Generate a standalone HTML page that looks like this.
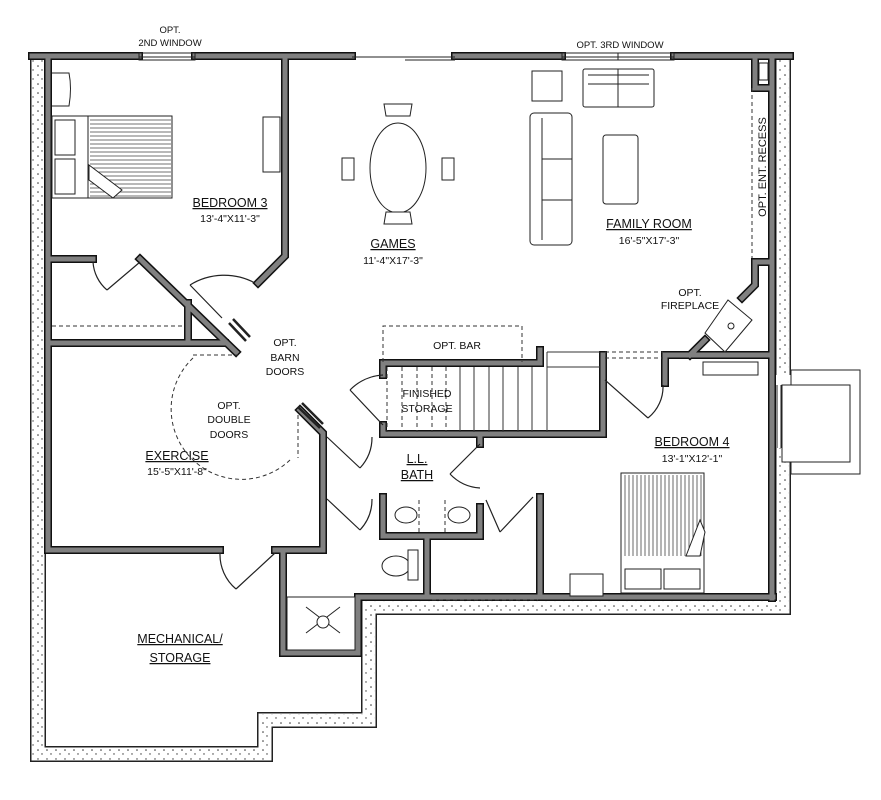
<!DOCTYPE html>
<html><head><meta charset="utf-8"><style>
html,body{margin:0;padding:0;background:#fff}
svg{display:block}
text{font-family:"Liberation Sans",Arial,sans-serif;fill:#111;text-anchor:middle}
.t{font-size:12.5px}.s{font-size:10.5px}.x{font-size:9.5px}
</style></head><body>
<svg width="881" height="800" viewBox="0 0 881 800" xmlns="http://www.w3.org/2000/svg">
<defs>
<pattern id="dots" width="9" height="9" patternUnits="userSpaceOnUse">
<circle cx="2" cy="3" r="0.8" fill="#333"/><circle cx="6" cy="7" r="0.7" fill="#333"/>
</pattern>
</defs>
<g fill="none" stroke-linejoin="miter">
<path d="M38,52 V754 H265 V720 H369 V607 H783 V448 M783,375 V52" stroke="#222" stroke-width="16"/>
<path d="M38,52 V754 H265 V720 H369 V607 H783 V448 M783,375 V52" stroke="#fff" stroke-width="13"/>
<path d="M38,52 V754 H265 V720 H369 V607 H783 V448 M783,375 V52" stroke="url(#dots)" stroke-width="11"/>
</g>
<rect x="791" y="370" width="69" height="104" fill="#fff" stroke="#222" stroke-width="1"/>
<rect x="782" y="385" width="68" height="77" fill="#fff" stroke="#222" stroke-width="1"/>
<line x1="777" y1="385" x2="777" y2="448" stroke="#222"/><line x1="781" y1="385" x2="781" y2="448" stroke="#222"/>
<g fill="none" stroke-linejoin="miter" stroke-linecap="square">
<path stroke="#111" stroke-width="8" d="M32,56 H139 M195,56 H352 M455,56 H562 M674,56 H790
M48,56 V550 M285,56 V256 L258,283 M48,259 H93 M140,259 L236,352 M48,343 H225 M188,303 V343
M48,550 H220 M275,550 H323 V433 L300,410 M283,550 V653 H358 V597 H773
M383,375 V363 H540 M383,425 V434 H603 V355 M540,363 V350
M665,383 V355 H772 M690,355 L705,340 M742,298 L755,285 V262 H770
M772,61 V598 M755,61 V88 H770
M383,497 V536 H480 V507 M427,536 V597 M540,497 V597 M480,437 V444"/>
<path stroke="#808080" stroke-width="5" d="M32,56 H139 M195,56 H352 M455,56 H562 M674,56 H790
M48,56 V550 M285,56 V256 L258,283 M48,259 H93 M140,259 L236,352 M48,343 H225 M188,303 V343
M48,550 H220 M275,550 H323 V433 L300,410 M283,550 V653 H358 V597 H773
M383,375 V363 H540 M383,425 V434 H603 V355 M540,363 V350
M665,383 V355 H772 M690,355 L705,340 M742,298 L755,285 V262 H770
M772,61 V598 M755,61 V88 H770
M383,497 V536 H480 V507 M427,536 V597 M540,497 V597 M480,437 V444"/>
</g>
<g stroke="#222" fill="none" stroke-width="1">
<rect x="139" y="53" width="56" height="7"/><line x1="139" y1="57" x2="195" y2="57"/>
<rect x="562" y="53" width="112" height="7"/><line x1="562" y1="57" x2="674" y2="57"/><line x1="618" y1="53" x2="618" y2="60"/>
<line x1="352" y1="57" x2="455" y2="57"/><line x1="405" y1="60" x2="455" y2="60"/>
<rect x="759" y="63" width="9" height="17"/>
</g>
<g stroke="#333" fill="none" stroke-width="1" stroke-dasharray="4 3">
<path d="M752,88 V258"/>
<path d="M383,362 V326 H522 V362"/>
<path d="M52,326 H185"/>
<path d="M605,352 H663 M605,358 H663"/>
<path d="M193,355 H238 M298,415 V458"/>
<path d="M193,358 A60,60 0 0,0 290,460" />
<path d="M432,600 H538 M290,601 H355"/>
<path d="M387,367 V432 M402,367 V432 M417,367 V432 M432,367 V432 M446,367 V432"/>
<path d="M419,500 V533 M445,500 V533"/>
</g>
<g stroke="#333" stroke-width="1">
<path d="M460,367 V432 M474,367 V432 M489,367 V432 M503,367 V432 M518,367 V432 M532,367 V432 M547,352 V432 M547,352 H600 M547,367 H600"/>
</g>
<g stroke="#222" fill="none" stroke-width="1.2">
<path d="M140,262 L107,290 M93,262 A40,40 0 0,0 107,290"/>
<path d="M190,285 L222,318 M190,285 A65,65 0 0,1 255,283"/>
<path d="M327,437 L360,468 M372,437 A45,45 0 0,1 360,468"/>
<path d="M327,499 L360,530 M372,499 A45,45 0 0,1 360,530"/>
<path d="M275,553 L236,589 M220,553 A45,45 0 0,0 236,589"/>
<path d="M383,425 L350,390 M383,375 A50,50 0 0,0 350,390"/>
<path d="M480,444 L450,474 M450,474 A45,45 0 0,0 480,488" />
<path d="M605,380 L648,418 M663,385 A40,40 0 0,1 648,418"/>
<path d="M486,500 L500,532 M533,497 L500,532"/>
<path d="M229,323 L246,341 M233,319 L250,337" stroke-width="2.5"/>
<path d="M298,407 L320,428 M302,403 L323,424" stroke-width="2.5"/>
</g>
<g stroke="#222" fill="#fff" stroke-width="1">
<path d="M52,73 H69 Q72,88 69,106 H52"/>
<rect x="52" y="116" width="120" height="82"/>
<rect x="55" y="120" width="20" height="35"/><rect x="55" y="159" width="20" height="35"/>
<path d="M88,116 V198" />
<path d="M263,117 H280 V172 H263 Z"/>
<ellipse cx="398" cy="168" rx="28" ry="45"/>
<path d="M386,116 h24 l2,-12 h-28 z M386,212 h24 l2,12 h-28 z M354,158 v22 h-12 v-22 z M442,158 v22 h12 v-22 z"/>
<rect x="532" y="71" width="30" height="30"/>
<rect x="583" y="69" width="71" height="38" rx="2"/><line x1="618" y1="69" x2="618" y2="107"/><line x1="588" y1="75" x2="649" y2="75"/><line x1="588" y1="84" x2="649" y2="84"/>
<rect x="530" y="113" width="42" height="132" rx="4"/><line x1="542" y1="118" x2="542" y2="240"/><line x1="542" y1="159" x2="572" y2="159"/><line x1="542" y1="200" x2="572" y2="200"/>
<rect x="603" y="135" width="35" height="69" rx="3"/>
<path d="M703,362 H758 V375 H703 Z"/>
<ellipse cx="406" cy="515" rx="11" ry="8"/><ellipse cx="459" cy="515" rx="11" ry="8"/>
<ellipse cx="396" cy="566" rx="14" ry="10"/><rect x="408" y="550" width="10" height="30"/>
<rect x="570" y="574" width="33" height="22"/>
<rect x="621" y="473" width="83" height="120"/>
<rect x="625" y="569" width="36" height="20"/><rect x="664" y="569" width="36" height="20"/>
<rect x="287" y="597" width="68" height="53"/>
<path d="M306,607 L340,633 M340,607 L306,633"/><circle cx="323" cy="622" r="6"/>
<path d="M705,333 L728,300 L752,320 L725,352 Z"/><circle cx="731" cy="326" r="3"/>
</g>
<g stroke="#444" stroke-width="0.8">
<path d="M90,120 H171 M90,124 H171 M90,128 H171 M90,132 H171 M90,136 H171 M90,140 H171 M90,144 H171 M90,148 H171 M90,152 H171 M90,156 H171 M90,160 H171 M90,164 H171 M90,168 H171 M90,172 H171 M90,176 H171 M90,180 H171 M90,184 H171 M90,188 H171 M90,192 H171 M90,196 H171"/>
<path d="M625,475 V556 M629,475 V556 M633,475 V556 M637,475 V556 M641,475 V556 M645,475 V556 M649,475 V556 M653,475 V556 M657,475 V556 M661,475 V556 M665,475 V556 M669,475 V556 M673,475 V556 M677,475 V556 M681,475 V556 M685,475 V556 M689,475 V556 M693,475 V556 M697,475 V556 M701,475 V556"/>
</g>
<path d="M89,165 L122,190 L113,198 L89,180 Z" fill="#fff" stroke="#222" stroke-width="1"/>
<path d="M686,556 L700,520 L705,532 L700,556 Z" fill="#fff" stroke="#222" stroke-width="1"/>
<text class="x" x="170" y="33">OPT.</text><text class="x" x="170" y="46">2ND WINDOW</text>
<text class="x" x="620" y="48">OPT. 3RD WINDOW</text>
<text class="t" x="230" y="207" text-decoration="underline">BEDROOM 3</text><text class="s" x="230" y="222">13'-4"X11'-3"</text>
<text class="t" x="393" y="248" text-decoration="underline">GAMES</text><text class="s" x="393" y="264">11'-4"X17'-3"</text>
<text class="t" x="649" y="228" text-decoration="underline">FAMILY ROOM</text><text class="s" x="649" y="244">16'-5"X17'-3"</text>
<text class="s" x="0" y="0" transform="translate(766,167) rotate(-90)" style="font-size:11px">OPT. ENT. RECESS</text>
<text class="s" x="690" y="296">OPT.</text><text class="s" x="690" y="309">FIREPLACE</text>
<text class="s" x="457" y="349">OPT. BAR</text>
<text class="s" x="285" y="346">OPT.</text><text class="s" x="285" y="361">BARN</text><text class="s" x="285" y="375">DOORS</text>
<text class="s" x="229" y="409">OPT.</text><text class="s" x="229" y="423">DOUBLE</text><text class="s" x="229" y="438">DOORS</text>
<text class="s" x="427" y="397">FINISHED</text><text class="s" x="427" y="412">STORAGE</text>
<text class="t" x="177" y="460" text-decoration="underline">EXERCISE</text><text class="s" x="177" y="475">15'-5"X11'-8"</text>
<text class="t" x="417" y="463" text-decoration="underline">L.L.</text><text class="t" x="417" y="479" text-decoration="underline">BATH</text>
<text class="t" x="692" y="446" text-decoration="underline">BEDROOM 4</text><text class="s" x="692" y="462">13'-1"X12'-1"</text>
<text class="t" x="180" y="643" text-decoration="underline">MECHANICAL/</text><text class="t" x="180" y="662" text-decoration="underline">STORAGE</text>
</svg>
</body></html>
